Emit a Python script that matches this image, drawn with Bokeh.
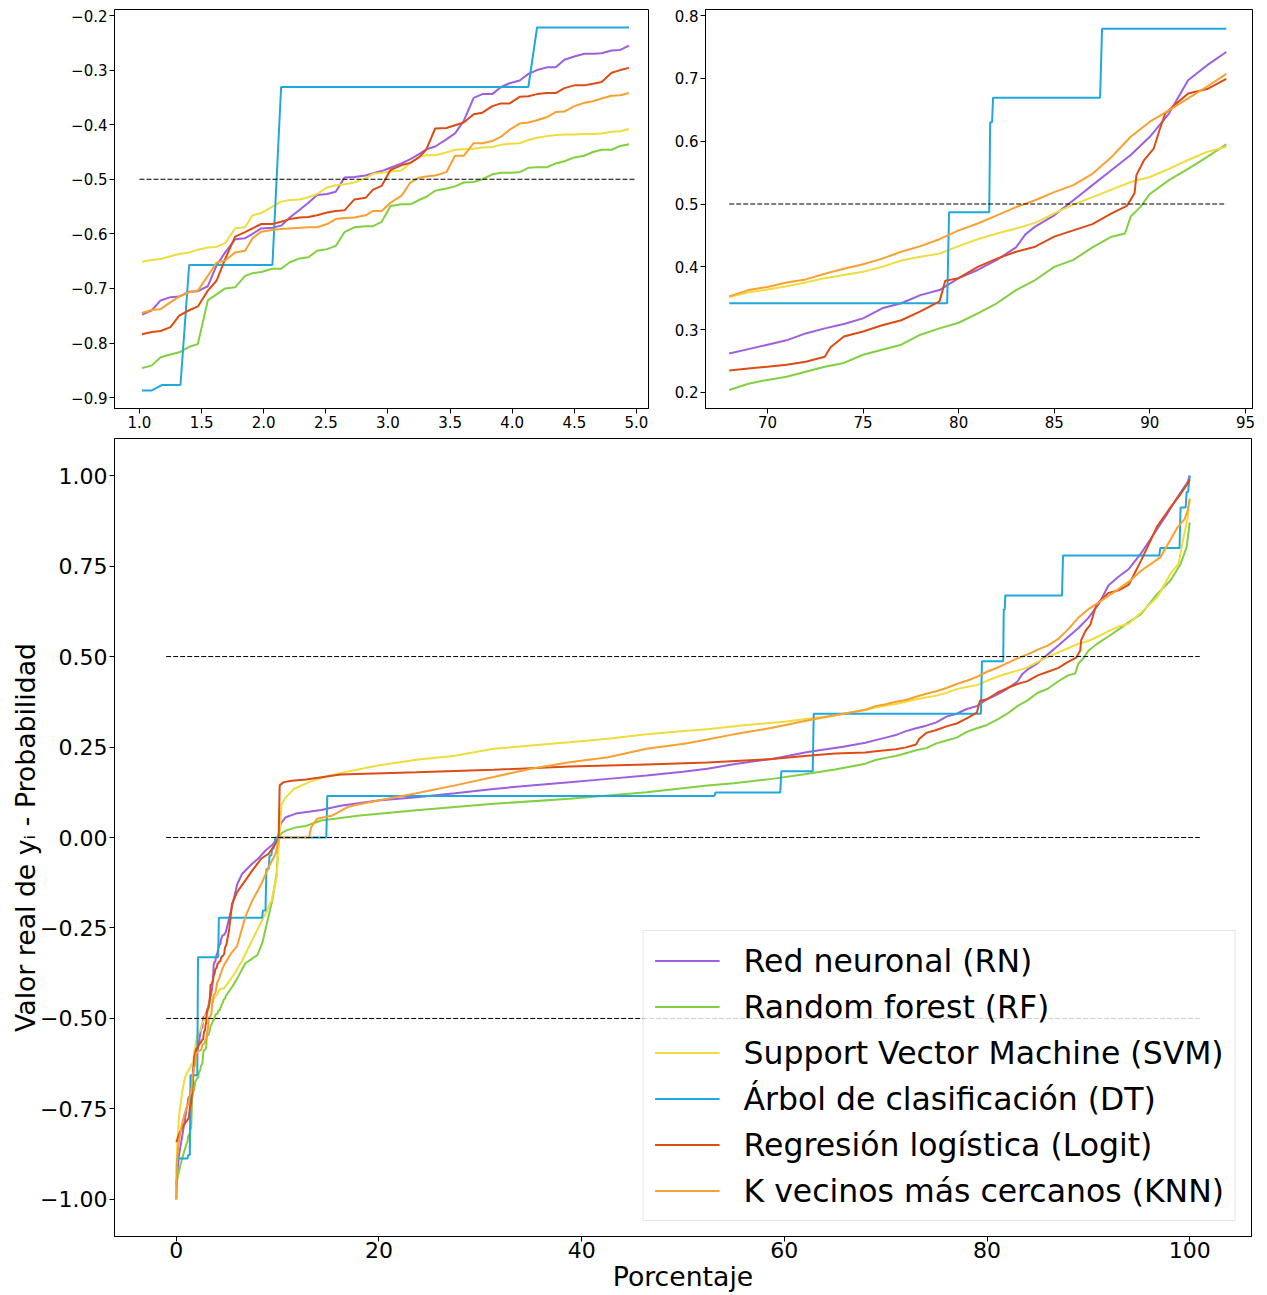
from bokeh.plotting import figure
from bokeh.layouts import column, row
from bokeh.models import FixedTicker, CustomJSTickFormatter
from bokeh.embed import file_html
from bokeh.resources import INLINE

# ---------------- data ----------------
NAMES = ["Red neuronal (RN)", "Random forest (RF)", "Support Vector Machine (SVM)",
         "Árbol de clasificación (DT)", "Regresión logística (Logit)", "K vecinos más cercanos (KNN)"]
COLORS = ["#9d5fe0", "#80d040", "#f0dc3c", "#1fa8de", "#dc4c14", "#f8a030"]

RN_X = [0, 0.25, 0.55, 0.85,
        1.02, 1.10, 1.17, 1.25, 1.32, 1.40, 1.47, 1.55, 1.62, 1.69, 1.77, 1.85, 1.91, 1.98, 2.07, 2.14, 2.21, 2.29,
        2.36, 2.43, 2.51, 2.58, 2.65, 2.73, 2.82, 2.88, 2.95, 3.02, 3.11, 3.18, 3.25, 3.31, 3.38, 3.47, 3.54, 3.61,
        3.69, 3.76, 3.84, 3.91, 3.98, 4.06, 4.13, 4.20, 4.28, 4.35, 4.42, 4.50, 4.58, 4.65, 4.72, 4.80, 4.87, 4.94,
        5.5, 6.0, 6.5, 7.5, 8.1, 8.8, 9.4, 10.0, 10.3, 10.8, 11.8, 14.3, 16.2, 19.9, 23.7, 27.5, 31.3, 35.0, 38.8,
        42.6, 46.4, 50.0, 52.4, 55.3, 58.8, 62.3, 65.8,
        68, 69, 70, 71, 72, 73, 74, 75, 76, 77, 78, 79, 80, 81, 82, 83, 83.5, 84, 85, 86, 87, 88, 89, 90, 91, 92, 93, 94,
        95.2, 96.5, 97.8, 98.8, 99.8, 100]
RN_Y = [-0.96, -0.88, -0.83, -0.78,
        -0.748, -0.740, -0.722, -0.716, -0.715, -0.706, -0.705, -0.696, -0.658, -0.634, -0.610, -0.608, -0.600,
        -0.590, -0.589, -0.585, -0.570, -0.556, -0.543, -0.529, -0.527, -0.523, -0.497, -0.496, -0.493, -0.489,
        -0.485, -0.479, -0.471, -0.463, -0.454, -0.445, -0.440, -0.427, -0.416, -0.393, -0.351, -0.344, -0.344,
        -0.331, -0.324, -0.319, -0.307, -0.300, -0.295, -0.295, -0.281, -0.275, -0.270, -0.270, -0.269, -0.264,
        -0.263, -0.255,
        -0.19, -0.13, -0.10, -0.072, -0.058, -0.036, -0.022, -0.005, 0.038, 0.056, 0.066, 0.076, 0.088, 0.102,
        0.111, 0.122, 0.134, 0.144, 0.153, 0.162, 0.171, 0.182, 0.190, 0.204, 0.217, 0.236, 0.251,
        0.262, 0.269, 0.276, 0.283, 0.294, 0.302, 0.309, 0.318, 0.334, 0.342, 0.355, 0.363, 0.382, 0.395, 0.411,
        0.431, 0.452, 0.464, 0.482, 0.506, 0.530, 0.554, 0.578, 0.607, 0.644, 0.697, 0.721, 0.742,
        0.785, 0.840, 0.895, 0.941, 0.982, 1.0]

RF_X = [0, 0.2, 0.45, 0.75,
        1.02, 1.10, 1.17, 1.25, 1.32, 1.40, 1.47, 1.55, 1.62, 1.69, 1.77, 1.85, 1.91, 1.98, 2.07, 2.14, 2.21, 2.29,
        2.36, 2.43, 2.51, 2.58, 2.65, 2.73, 2.82, 2.88, 2.95, 3.02, 3.11, 3.18, 3.25, 3.31, 3.38, 3.47, 3.54, 3.61,
        3.69, 3.76, 3.84, 3.91, 3.98, 4.06, 4.13, 4.20, 4.28, 4.35, 4.42, 4.50, 4.58, 4.65, 4.72, 4.80, 4.87, 4.94,
        5.5, 6.0, 6.8, 7.2, 8.0, 8.5, 9.0, 9.5, 9.9, 10.1, 10.3, 10.8, 11.8, 12.8, 14.3, 18.1, 23.7, 31.3, 38.8,
        46.4, 52.4, 55.0, 58.8, 62.0, 65.0,
        68, 69, 70, 71, 72, 73, 74, 75, 76, 77, 78, 79, 80, 81, 82, 83, 84, 85, 86, 87, 88, 88.7, 89.0, 89.5,
        90, 91, 92, 93, 94,
        95.2, 96.8, 98.1, 99.1, 99.7, 100]
RF_Y = [-0.96, -0.93, -0.90, -0.87,
        -0.846, -0.841, -0.826, -0.821, -0.817, -0.807, -0.802, -0.722, -0.711, -0.700, -0.698, -0.677, -0.672,
        -0.670, -0.664, -0.664, -0.652, -0.645, -0.643, -0.631, -0.628, -0.622, -0.597, -0.588, -0.586, -0.586,
        -0.578, -0.549, -0.546, -0.546, -0.538, -0.532, -0.521, -0.517, -0.513, -0.506, -0.505, -0.500, -0.491,
        -0.488, -0.488, -0.487, -0.479, -0.478, -0.478, -0.471, -0.467, -0.460, -0.457, -0.450, -0.446, -0.446,
        -0.439, -0.436,
        -0.413, -0.39, -0.348, -0.34, -0.325, -0.29, -0.23, -0.17, -0.10, -0.01, 0.01, 0.019, 0.028, 0.032, 0.047,
        0.061, 0.075, 0.093, 0.107, 0.125, 0.144, 0.150, 0.162, 0.175, 0.188,
        0.204, 0.214, 0.220, 0.225, 0.233, 0.241, 0.247, 0.260, 0.268, 0.276, 0.292, 0.302, 0.311, 0.326, 0.342,
        0.363, 0.379, 0.400, 0.411, 0.431, 0.448, 0.453, 0.480, 0.495, 0.516, 0.538, 0.556, 0.575, 0.595,
        0.617, 0.673, 0.71, 0.756, 0.802, 0.871]

SVM_X = [0, 0.1, 0.3, 0.6, 0.85,
         1.02, 1.10, 1.17, 1.25, 1.32, 1.40, 1.47, 1.55, 1.62, 1.69, 1.77, 1.85, 1.91, 1.98, 2.07, 2.14, 2.21, 2.29,
         2.36, 2.43, 2.51, 2.58, 2.65, 2.73, 2.82, 2.88, 2.95, 3.02, 3.11, 3.18, 3.25, 3.31, 3.38, 3.47, 3.54, 3.61,
         3.69, 3.76, 3.84, 3.91, 3.98, 4.06, 4.13, 4.20, 4.28, 4.35, 4.42, 4.50, 4.58, 4.65, 4.72, 4.80, 4.87, 4.94,
         5.66, 6.5, 7.8, 8.8, 9.4, 9.9, 10.15, 10.4, 10.8, 11.6, 13.1, 14.6, 16.5, 19.9, 23.7, 27.5, 31.3, 35.0,
         38.8, 42.6, 46.4, 50.1, 52.4, 56.0, 60.0, 62.3, 65.0,
         68, 69, 70, 71, 72, 73, 74, 75, 76, 77, 78, 79, 80, 81, 82, 83, 84, 85, 86, 87, 88, 89, 90, 91, 92, 93, 94,
         95.2, 96.8, 98.1, 98.9, 99.4, 99.8, 100]
SVM_Y = [-0.93, -0.84, -0.76, -0.70, -0.665,
         -0.651, -0.648, -0.646, -0.641, -0.637, -0.634, -0.629, -0.625, -0.624, -0.617, -0.590, -0.588, -0.566,
         -0.562, -0.550, -0.541, -0.538, -0.537, -0.533, -0.527, -0.515, -0.511, -0.509, -0.506, -0.498, -0.490,
         -0.488, -0.486, -0.484, -0.470, -0.459, -0.456, -0.456, -0.451, -0.446, -0.445, -0.444, -0.442, -0.441,
         -0.437, -0.435, -0.434, -0.428, -0.424, -0.421, -0.419, -0.418, -0.418, -0.417, -0.417, -0.416, -0.413,
         -0.412, -0.408,
         -0.38, -0.34, -0.266, -0.21, -0.174, -0.11, 0.0, 0.093, 0.111, 0.134, 0.153, 0.167, 0.180, 0.199, 0.215,
         0.226, 0.245, 0.254, 0.263, 0.273, 0.285, 0.294, 0.299, 0.31, 0.32, 0.328, 0.337,
         0.352, 0.359, 0.364, 0.369, 0.375, 0.382, 0.387, 0.392, 0.400, 0.410, 0.416, 0.421, 0.433, 0.444, 0.453,
         0.461, 0.470, 0.485, 0.499, 0.511, 0.523, 0.535, 0.543, 0.556, 0.570, 0.583, 0.591,
         0.622, 0.664, 0.729, 0.756, 0.83, 0.884, 0.936]

DT_X = [0, 0.1, 1.02, 1.10, 1.18, 1.33, 1.40, 2.07, 2.14, 4.13, 4.20, 4.94, 8.46, 8.55, 8.80, 8.89, 9.12, 9.20,
        9.38, 9.45, 9.60, 9.78, 14.8, 14.9, 53.1, 53.2, 59.6, 59.7, 62.8, 62.9, 68.0, 79.4, 79.5, 81.6, 81.65,
        81.75, 81.8, 87.4, 87.5, 94.0, 97.0, 97.1, 99.0, 99.1, 99.6, 99.7, 99.85, 100]
DT_Y = [-1.0, -0.887, -0.887, -0.887, -0.877, -0.877, -0.657, -0.657, -0.331, -0.331, -0.222, -0.222, -0.222,
        -0.202, -0.202, -0.087, -0.087, -0.050, -0.050, -0.031, -0.031, 0.0, 0.0, 0.115, 0.115, 0.124, 0.124,
        0.183, 0.183, 0.342, 0.342, 0.342, 0.487, 0.487, 0.630, 0.630, 0.669, 0.669, 0.779, 0.779, 0.779, 0.800,
        0.800, 0.912, 0.912, 0.955, 0.955, 1.0]

LOGIT_X = [0, 0.35, 0.7,
           1.02, 1.10, 1.17, 1.25, 1.32, 1.40, 1.47, 1.55, 1.62, 1.69, 1.77, 1.85, 1.91, 1.98, 2.07, 2.14, 2.21,
           2.29, 2.36, 2.43, 2.51, 2.58, 2.65, 2.73, 2.82, 2.88, 2.95, 3.02, 3.11, 3.18, 3.25, 3.31, 3.38, 3.47,
           3.54, 3.61, 3.69, 3.76, 3.84, 3.91, 3.98, 4.06, 4.13, 4.20, 4.28, 4.35, 4.42, 4.50, 4.58, 4.65, 4.72,
           4.80, 4.87, 4.94,
           5.2, 5.5, 6.0, 6.8, 7.5, 8.4, 9.1, 9.9, 10.1, 10.2, 10.6, 11.4, 12.8, 16.2, 23.7, 31.3, 38.8, 46.4, 52.4,
           58.8, 62.3, 65.0,
           68, 69, 70, 71, 72, 73, 73.3, 74, 75, 76, 77, 78, 79, 79.3, 80, 81, 82, 83, 84, 85, 86, 87, 88, 88.8,
           89.2, 89.3, 89.7, 90.2, 90.5, 90.8, 91.2, 92, 93, 94,
           95.2, 96.8, 98.1, 99.1, 99.9, 100]
LOGIT_Y = [-0.842, -0.814, -0.795,
           -0.784, -0.780, -0.778, -0.771, -0.750, -0.740, -0.733, -0.704, -0.686, -0.646, -0.605, -0.597, -0.590,
           -0.582, -0.582, -0.578, -0.573, -0.570, -0.569, -0.566, -0.561, -0.558, -0.557, -0.537, -0.534, -0.519,
           -0.512, -0.483, -0.474, -0.470, -0.460, -0.445, -0.407, -0.406, -0.401, -0.396, -0.381, -0.378, -0.366,
           -0.361, -0.361, -0.349, -0.348, -0.344, -0.342, -0.342, -0.333, -0.328, -0.328, -0.325, -0.322, -0.305,
           -0.300, -0.296,
           -0.257, -0.183, -0.151, -0.119, -0.091, -0.058, -0.045, -0.013, 0.0, 0.144, 0.153, 0.157, 0.16, 0.174,
           0.18, 0.187, 0.196, 0.202, 0.207, 0.217, 0.226, 0.232,
           0.235, 0.238, 0.241, 0.244, 0.249, 0.257, 0.272, 0.289, 0.297, 0.307, 0.315, 0.329, 0.345, 0.378, 0.382,
           0.400, 0.413, 0.424, 0.432, 0.448, 0.458, 0.468, 0.485, 0.497, 0.517, 0.546, 0.570, 0.588, 0.617, 0.644,
           0.655, 0.676, 0.683, 0.699,
           0.765, 0.86, 0.912, 0.949, 0.982, 0.99]

KNN_X = [0, 0.05, 0.2, 0.5, 0.8,
         1.02, 1.10, 1.17, 1.25, 1.32, 1.40, 1.47, 1.55, 1.62, 1.69, 1.77, 1.85, 1.91, 1.98, 2.07, 2.14, 2.21, 2.29,
         2.36, 2.43, 2.51, 2.58, 2.65, 2.73, 2.82, 2.88, 2.95, 3.02, 3.11, 3.18, 3.25, 3.31, 3.38, 3.47, 3.54, 3.61,
         3.69, 3.76, 3.84, 3.91, 3.98, 4.06, 4.13, 4.20, 4.28, 4.35, 4.42, 4.50, 4.58, 4.65, 4.72, 4.80, 4.87, 4.94,
         5.4, 6.0, 6.8, 7.5, 8.4, 9.1, 9.8, 10.15, 13.1, 13.3, 13.9, 15.4, 16.9, 17.7, 19.9, 23.7, 27.5, 31.3, 35.0,
         38.8, 42.6, 46.4, 50.1, 52.4, 55.0, 58.8, 62.0, 65.8,
         68, 69, 70, 71, 72, 73, 74, 75, 76, 77, 78, 79, 80, 81, 82, 83, 84, 85, 86, 87, 88, 89, 90, 91, 92, 93, 94,
         95.2, 97.1, 98.8, 99.5, 99.8, 100]
KNN_Y = [-1.0, -0.90, -0.85, -0.80, -0.765,
         -0.745, -0.739, -0.738, -0.725, -0.715, -0.707, -0.704, -0.677, -0.653, -0.649, -0.634, -0.631, -0.608,
         -0.596, -0.593, -0.591, -0.590, -0.589, -0.588, -0.588, -0.582, -0.573, -0.571, -0.570, -0.566, -0.558,
         -0.558, -0.543, -0.530, -0.506, -0.497, -0.495, -0.493, -0.487, -0.457, -0.457, -0.434, -0.434, -0.430,
         -0.422, -0.409, -0.398, -0.396, -0.392, -0.386, -0.377, -0.376, -0.366, -0.360, -0.357, -0.352, -0.347,
         -0.346, -0.342,
         -0.32, -0.30, -0.22, -0.174, -0.128, -0.082, -0.045, 0.0, 0.0, 0.028, 0.052, 0.061, 0.084, 0.09, 0.102,
         0.122, 0.144, 0.167, 0.190, 0.208, 0.222, 0.245, 0.259, 0.271, 0.285, 0.303, 0.322, 0.342,
         0.353, 0.363, 0.368, 0.375, 0.380, 0.389, 0.397, 0.404, 0.413, 0.424, 0.433, 0.444, 0.458, 0.469, 0.482,
         0.495, 0.506, 0.519, 0.530, 0.548, 0.575, 0.607, 0.631, 0.649, 0.668, 0.687, 0.707,
         0.737, 0.774, 0.857, 0.88, 0.903, 0.936]

SERIES_X = [RN_X, RF_X, SVM_X, DT_X, LOGIT_X, KNN_X]
SERIES_Y = [RN_Y, RF_Y, SVM_Y, DT_Y, LOGIT_Y, KNN_Y]

# reference lines
MAIN_HLINES_Y = [0.5, 0.0, -0.5]
MAIN_HLINES_X = [-1, 101]
ZOOM_A_HLINE_Y = [-0.5]
ZOOM_A_HLINE_X = [1.0, 5.0]
ZOOM_A_WINDOW = [1.0, 4.95]
ZOOM_B_HLINE_Y = [0.5]
ZOOM_B_HLINE_X = [68, 94]
ZOOM_B_WINDOW = [68, 94]

# ticks
MAIN_XTICKS = [0, 20, 40, 60, 80, 100]
MAIN_XLABELS = ["0", "20", "40", "60", "80", "100"]
MAIN_YTICKS = [-1.0, -0.75, -0.5, -0.25, 0.0, 0.25, 0.5, 0.75, 1.0]
MAIN_YLABELS = ["\u22121.00", "\u22120.75", "\u22120.50", "\u22120.25", "0.00", "0.25", "0.50", "0.75", "1.00"]
A_XTICKS = [1.0, 1.5, 2.0, 2.5, 3.0, 3.5, 4.0, 4.5, 5.0]
A_XLABELS = ["1.0", "1.5", "2.0", "2.5", "3.0", "3.5", "4.0", "4.5", "5.0"]
A_YTICKS = [-0.9, -0.8, -0.7, -0.6, -0.5, -0.4, -0.3, -0.2]
A_YLABELS = ["\u22120.9", "\u22120.8", "\u22120.7", "\u22120.6", "\u22120.5", "\u22120.4", "\u22120.3", "\u22120.2"]
B_XTICKS = [70, 75, 80, 85, 90, 95]
B_XLABELS = ["70", "75", "80", "85", "90", "95"]
B_YTICKS = [0.2, 0.3, 0.4, 0.5, 0.6, 0.7, 0.8]
B_YLABELS = ["0.2", "0.3", "0.4", "0.5", "0.6", "0.7", "0.8"]

FONT = "DejaVu Sans"


def fmt(ticks, labels):
    return CustomJSTickFormatter(args=dict(t=ticks, l=labels), code="""
        let best = 0, d = Infinity;
        for (let i = 0; i < t.length; i++) {
            const e = Math.abs(t[i] - tick);
            if (e < d) { d = e; best = i; }
        }
        return l[best];
    """)


def make_fig(width, height, xr, yr, borders, xt, xl, yt, yl, tick_size, standoff):
    p = figure(width=width, height=height, x_range=xr, y_range=yr,
               output_backend="svg", toolbar_location=None,
               min_border_left=borders[0], min_border_right=borders[1],
               min_border_top=borders[2], min_border_bottom=borders[3])
    p.background_fill_color = "white"
    p.border_fill_color = "white"
    p.outline_line_color = "black"
    p.outline_line_width = 1
    p.grid.visible = False
    for ax, t, l in ((p.xaxis[0], xt, xl), (p.yaxis[0], yt, yl)):
        ax.ticker = FixedTicker(ticks=t)
        ax.formatter = fmt(t, l)
        ax.axis_line_color = "black"
        ax.major_tick_out = 5
        ax.major_tick_in = 0
        ax.minor_tick_out = 0
        ax.minor_tick_in = 0
        ax.major_tick_line_color = "black"
        ax.major_label_text_font = FONT
        ax.major_label_text_font_size = tick_size
        ax.major_label_text_color = "black"
        ax.major_label_standoff = standoff
        ax.axis_label_text_font = FONT
        ax.axis_label_text_font_style = "normal"
        ax.axis_label_text_color = "black"
    return p


def window(xs, ys, lo, hi):
    pts = [(x, y) for x, y in zip(xs, ys) if lo <= x <= hi]
    return [a for a, _ in pts], [b for _, b in pts]


# ---------- top-left zoom ----------
p1 = make_fig(660, 432, (0.799, 5.097), (-0.920, -0.189), (114, 12, 9, 24),
              A_XTICKS, A_XLABELS, A_YTICKS, A_YLABELS, "15px", 2)
for xs, ys, c in zip(SERIES_X, SERIES_Y, COLORS):
    wx, wy = window(xs, ys, *ZOOM_A_WINDOW)
    p1.line(wx, wy, line_color=c, line_width=2)
p1.segment(x0=[ZOOM_A_HLINE_X[0]], x1=[ZOOM_A_HLINE_X[1]], y0=ZOOM_A_HLINE_Y, y1=ZOOM_A_HLINE_Y,
           line_color="black", line_width=1, line_dash="5 2")

# ---------- top-right zoom ----------
p2 = make_fig(597, 432, (66.76, 95.37), (0.1745, 0.8096), (45, 5, 9, 24),
              B_XTICKS, B_XLABELS, B_YTICKS, B_YLABELS, "15px", 2)
for xs, ys, c in zip(SERIES_X, SERIES_Y, COLORS):
    wx, wy = window(xs, ys, *ZOOM_B_WINDOW)
    p2.line(wx, wy, line_color=c, line_width=2)
p2.segment(x0=[ZOOM_B_HLINE_X[0]], x1=[ZOOM_B_HLINE_X[1]], y0=ZOOM_B_HLINE_Y, y1=ZOOM_B_HLINE_Y,
           line_color="black", line_width=1, line_dash="5 2")

# ---------- main ----------
p3 = make_fig(1257, 862, (-6.1, 106.1), (-1.1025, 1.1025), (114, 6, 6, 58),
              MAIN_XTICKS, MAIN_XLABELS, MAIN_YTICKS, MAIN_YLABELS, "22px", 2)
p3.xaxis[0].axis_label = "Porcentaje"
p3.yaxis[0].axis_label = "Valor real de y\u1d62 - Probabilidad"
p3.xaxis[0].major_label_standoff = 0
p3.xaxis[0].axis_label_standoff = 0
p3.yaxis[0].major_label_standoff = 2
p3.yaxis[0].axis_label_standoff = -4
for ax in (p3.xaxis[0], p3.yaxis[0]):
    ax.axis_label_text_font_size = "26.7px"
for name, xs, ys, c in zip(NAMES, SERIES_X, SERIES_Y, COLORS):
    p3.line(xs, ys, line_color=c, line_width=2, legend_label=name)
n = len(MAIN_HLINES_Y)
p3.segment(x0=[MAIN_HLINES_X[0]] * n, x1=[MAIN_HLINES_X[1]] * n, y0=MAIN_HLINES_Y, y1=MAIN_HLINES_Y,
           line_color="black", line_width=1, line_dash="5 2")

lg = p3.legend[0]
lg.location = "bottom_right"
lg.margin = 15
lg.padding = 11
lg.spacing = 9
lg.label_height = 37
lg.glyph_height = 37
lg.glyph_width = 65
lg.label_standoff = 24
lg.label_text_font = FONT
lg.label_text_font_size = "31.5px"
lg.label_text_color = "black"
lg.border_line_color = "#cccccc"
lg.border_line_width = 1
lg.background_fill_color = "white"
lg.background_fill_alpha = 0.8

layout = column(row(p1, p2), p3)
open("out.html", "w").write(file_html(layout, INLINE))
